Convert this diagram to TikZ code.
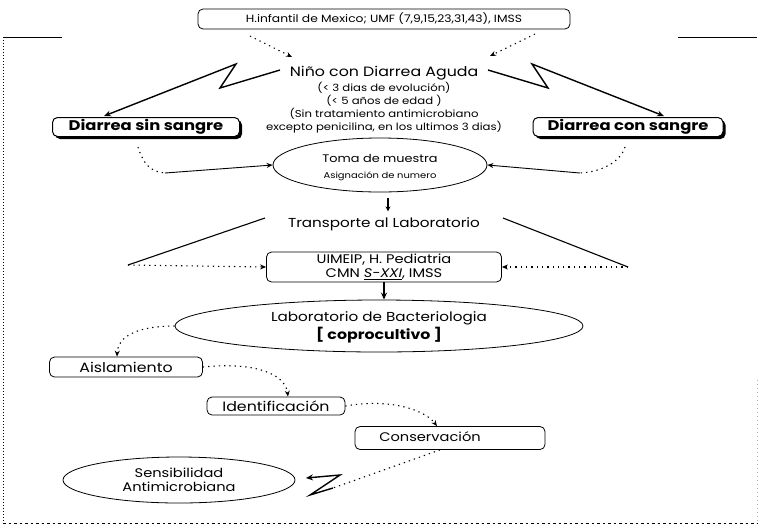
\documentclass[tikz,border=0pt]{standalone}
\usepackage{fontspec}
\setmainfont{Poppins}[FakeStretch=1.17]
\usetikzlibrary{arrows.meta,shadows,shapes.geometric}
\tikzset{
  rbox/.style={draw, rounded corners=5pt, line width=0.8pt, inner sep=1pt, font=\fontsize{13.5}{15}\selectfont},
  sbox/.style={rbox, fill=white, line width=1pt, font=\fontsize{14}{15}\bfseries,
     drop shadow={shadow xshift=2.5pt, shadow yshift=-2.5pt, opacity=1, fill=black}},
  ell/.style={draw, ellipse, line width=0.8pt, inner sep=0pt},
  txt/.style={inner sep=0pt, font=\fontsize{13}{15}\selectfont},
  stxt/.style={inner sep=0pt, font=\fontsize{10}{12}\selectfont},
  dotarr/.style={line width=1.1pt, dash pattern=on 1.3pt off 4pt, -{Stealth[length=6pt,width=5pt]}},
  dotln/.style={line width=1.1pt, dash pattern=on 1.3pt off 4pt},
  solarr/.style={line width=1.4pt, -{Stealth[length=7pt,width=6pt]}},
  thinarr/.style={line width=0.9pt, -{Stealth[length=6pt,width=5pt]}},
  solln/.style={line width=1.1pt},
}
\begin{document}
\begin{tikzpicture}[x=1pt,y=-1pt]
\useasboundingbox (0,0) rectangle (760,531);
% frame
\draw[line width=1pt] (3,37) -- (62,37);
\draw[line width=1pt] (678,37) -- (757,37);
\draw[line width=1pt, dash pattern=on 1pt off 2pt] (3,37) -- (3,523);
\draw[line width=1pt, dash pattern=on 2.5pt off 3pt] (3,523) -- (757,523);
\draw[line width=0.6pt, gray!60, dash pattern=on 1pt off 3pt] (757,380) -- (757,523);
% top box
\node[rbox, minimum width=372pt, minimum height=20pt, font=\fontsize{10.5}{12}\selectfont] (top) at (384,19) {H.infantil de Mexico; UMF (7,9,15,23,31,43), IMSS};
\coordinate (tl) at (250,36);
\coordinate (tr) at (535,34);
\coordinate (nl) at (292,57);
\coordinate (nr) at (490,56);
\draw[dotarr] (tl) -- (nl);
\draw[dotarr] (tr) -- (nr);
% nino text
\node[txt, font=\fontsize{13.5}{15}\selectfont] (n1) at (384,73) {Niño con Diarrea Aguda};
\node[stxt] (n2) at (384,88) {(< 3 dias de evolución)};
\node[stxt] (n3) at (384,101) {(< 5 años de edad )};
\node[stxt] (n4) at (384,114) {(Sin tratamiento antimicrobiano};
\node[stxt] (n5) at (384,127) {excepto penicilina, en los ultimos 3 dias)};
% boxes
\node[sbox, minimum width=187pt, minimum height=19pt] (sin) at (146,127) {Diarrea sin sangre};
\node[sbox, minimum width=190pt, minimum height=19pt] (con) at (628,127) {Diarrea con sangre};
% zigzags
\coordinate (zl0) at (280,70);
\coordinate (zr0) at (488,70);
\draw[solarr, line join=miter] (zl0) -- (220,88) -- (236,64) -- (104,116);
\draw[solarr, line join=miter] (zr0) -- (548,88) -- (532,64) -- (664,116);
% toma
\node[ell, minimum width=214pt, minimum height=54pt] (toma) at (380,165) {};
\node[txt, font=\fontsize{11}{13}\selectfont] (t1) at (380,158) {Toma de muestra};
\node[stxt, font=\fontsize{8.5}{10}\selectfont] (t2) at (380,176) {Asignación de numero};
\coordinate (sl) at (138,147);
\coordinate (sr) at (625,147);
\coordinate (slm) at (165,173);
\coordinate (srm) at (580,173);
\draw[dotln] (sl) .. controls (143,163) and (150,172) .. (slm);
\draw[dotln] (sr) .. controls (620,163) and (600,172) .. (srm);
\draw[thinarr] (slm) -- (toma.west);
\draw[thinarr] (srm) -- (toma.east);
% transporte
\node[txt] (tr1) at (384,224) {Transporte al Laboratorio};
\draw[line width=1.1pt, -{Stealth[length=5pt,width=5pt]}] (toma.south -| tr1.north) ++(4,6) -- ++(0,13);
\coordinate (la) at (128,265);
\coordinate (ra) at (628,267);
\coordinate (la0) at (265,218);
\coordinate (ra0) at (503,218);
\draw[solln] (la0) -- (la);
\draw[solln] (ra0) -- (ra);
% uimeip
\node[rbox, minimum width=235pt, minimum height=30pt, align=center, font=\fontsize{12.5}{14}\selectfont] (ui) at (384,267) {UIMEIP, H. Pediatria\\CMN \underline{\textit{S-XXI}}, IMSS};
\draw[dotarr] (la) -- (ui.west);
\draw[dotarr] (ra) -- (ui.east);
% lab
\node[ell, minimum width=408pt, minimum height=52pt] (lab) at (379,326) {};
\node[txt] (l1) at (379,318) {Laboratorio de Bacteriologia};
\node[txt, font=\fontsize{13.5}{15}\bfseries] (l2) at (379,335) {[ coprocultivo ]};
\draw[solarr] (ui.south) -- (ui.south |- lab.north);
% steps
\node[rbox, minimum width=153pt, minimum height=20pt] (ais) at (126,367) {Aislamiento};
\node[rbox, minimum width=138pt, minimum height=18pt] (ide) at (276,406) {Identificación};
\node[rbox, minimum width=190pt, minimum height=23pt] (con2) at (450,438) {};
\node[txt, font=\fontsize{12.5}{14}\selectfont] (con2t) at (430,437) {Conservación};
\draw[dotarr] (lab.west) .. controls (140,326) and (118,335) .. (ais.north -| 117,0);
\draw[dotarr] (ais.east) .. controls (250,362) and (285,372) .. (ide.north -| 288,0);
\draw[dotarr] (ide.east) .. controls (390,398) and (425,410) .. (con2.north -| 437,0);
% sensibilidad
\node[ell, minimum width=232pt, minimum height=46pt] (sen) at (179,480) {};
\node[txt, align=center, font=\fontsize{12.5}{14}\selectfont] (s1) at (179,480) {Sensibilidad\\Antimicrobiana};
\coordinate (zb) at (333,488);
\draw[dotln] (con2.south -| 440,0) -- (zb);
\draw[solarr, line join=miter] (zb) -- (310,495) -- (340,475) -- (306,478);
\end{tikzpicture}
\end{document}
